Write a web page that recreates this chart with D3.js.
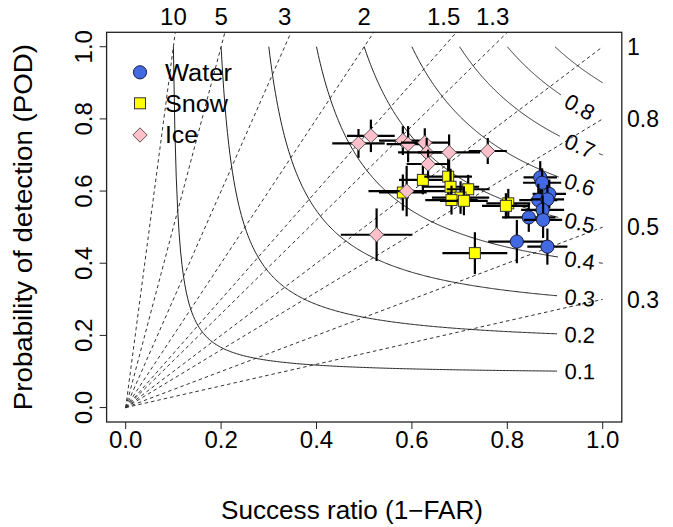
<!DOCTYPE html>
<html><head><meta charset="utf-8">
<script src="https://cdn.jsdelivr.net/npm/d3@7"></script>
<style>
body{margin:0;background:#fff}
svg{display:block}
text{font-family:"Liberation Sans",Arial,Helvetica,sans-serif;fill:#000}
</style></head>
<body><svg id="chart" width="673" height="527"></svg>
<script>
// ---------- data ----------
const xTicks = [0.0, 0.2, 0.4, 0.6, 0.8, 1.0];
const yTicks = [0.0, 0.2, 0.4, 0.6, 0.8, 1.0];
const biasLines = [0.3, 0.5, 0.8, 1, 1.3, 1.5, 2, 3, 5, 10];
const biasTopLabels = [10, 5, 3, 2, 1.5, 1.3];
const biasRightLabels = [1, 0.8, 0.5, 0.3];
const csiLevels = [0.1, 0.2, 0.3, 0.4, 0.5, 0.6, 0.7, 0.8, 0.9];
const csiLabelled = [0.1, 0.2, 0.3, 0.4, 0.5, 0.6, 0.7, 0.8];
const csiTails = [0.4, 0.7];
const categories = ["Water", "Snow", "Ice"];

const waterSR     = [0.869, 0.873, 0.888, 0.865, 0.884, 0.874, 0.845, 0.875, 0.820, 0.884];
const waterPOD    = [0.638, 0.623, 0.592, 0.575, 0.577, 0.548, 0.527, 0.520, 0.460, 0.446];
const waterSRerr  = [0.035, 0.040, 0.035, 0.040, 0.035, 0.045, 0.056, 0.040, 0.060, 0.042];
const waterPODerr = [0.045, 0.040, 0.040, 0.045, 0.040, 0.040, 0.040, 0.050, 0.060, 0.050];

const snowSR      = [0.623, 0.676, 0.681, 0.718, 0.702, 0.683, 0.709, 0.581, 0.802, 0.797, 0.732];
const snowPOD     = [0.631, 0.640, 0.612, 0.605, 0.582, 0.575, 0.573, 0.596, 0.566, 0.559, 0.428];
const snowSRerr   = [0.050, 0.050, 0.060, 0.045, 0.060, 0.055, 0.050, 0.050, 0.046, 0.050, 0.068];
const snowPODerr  = [0.040, 0.050, 0.050, 0.040, 0.045, 0.040, 0.040, 0.050, 0.040, 0.035, 0.058];

const iceSR       = [0.488, 0.514, 0.581, 0.592, 0.627, 0.631, 0.678, 0.759, 0.634, 0.589, 0.526];
const icePOD      = [0.732, 0.753, 0.740, 0.730, 0.734, 0.707, 0.707, 0.711, 0.675, 0.600, 0.479];
const iceSRerr    = [0.055, 0.050, 0.050, 0.045, 0.050, 0.060, 0.065, 0.040, 0.045, 0.080, 0.075];
const icePODerr   = [0.040, 0.045, 0.040, 0.050, 0.040, 0.040, 0.050, 0.036, 0.040, 0.070, 0.073];

// ---------- layout ----------
const svg = d3.select("#chart");
const L = 106.6, R = 621.8, T = 32.3, B = 422;
const x = d3.scaleLinear().domain([-0.04, 1.04]).range([L, R]);
const y = d3.scaleLinear().domain([-0.04, 1.04]).range([B, T]);

svg.append("defs").append("clipPath").attr("id", "clip")
  .append("rect").attr("x", L).attr("y", T).attr("width", R - L).attr("height", B - T);

const plot = svg.append("g").attr("clip-path", "url(#clip)");

// bias lines (dashed), from origin to SR = 1 (clipped at the box)
plot.selectAll("line.bias").data(biasLines).join("line")
  .attr("class", "bias")
  .attr("x1", x(0)).attr("y1", y(0))
  .attr("x2", x(1)).attr("y2", b => y(b))
  .attr("stroke", "#333").attr("stroke-width", 1).attr("stroke-dasharray", "3.5,3");

// CSI contours
const csiPOD = (c, sr) => 1 / (1 / c - 1 / sr + 1);
const labelSR = 0.952;
const lineGen = d3.line().x(d => d[0]).y(d => d[1]);
csiLevels.forEach(c => {
  const pts = [];
  const n = 300;
  for (let i = 0; i <= n; i++) {
    const sr = c + (1 - c) * i / n;
    pts.push([x(sr), y(csiPOD(c, sr))]);
  }
  let segs = [pts];
  if (csiLabelled.includes(c)) {
    const lx = x(labelSR), ly = y(csiPOD(c, labelSR));
    segs = [pts.filter(p => Math.hypot(p[0] - lx, p[1] - ly) > 22 && p[0] < lx)];
    if (csiTails.includes(c)) {
      const tail = pts.filter(p => p[0] > lx + 19);
      if (tail.length > 1) segs.push(tail);
    }
  }
  segs.forEach(s => plot.append("path").attr("d", lineGen(s))
    .attr("fill", "none").attr("stroke", "#222").attr("stroke-width", 1));
});

// CSI labels rotated along contour
csiLabelled.forEach(c => {
  const pod = csiPOD(c, labelSR);
  const slope = (pod * pod) / (labelSR * labelSR) * ((y(0) - y(1)) / (x(1) - x(0)));
  const ang = Math.atan(slope) * 180 / Math.PI;
  svg.append("text")
    .attr("transform", `translate(${x(labelSR)},${y(pod)}) rotate(${ang})`)
    .attr("text-anchor", "middle").attr("dy", "0.36em")
    .attr("font-size", 22).text(c.toFixed(1));
});

// error bars and points (per point, group order)
function drawMarker(g, cx, cy, kind) {
  if (kind === "Water") {
    g.append("circle").attr("cx", cx).attr("cy", cy).attr("r", 6.6)
      .attr("fill", "#4169E1").attr("stroke", "#1a1a40").attr("stroke-width", 1);
  } else if (kind === "Snow") {
    g.append("rect").attr("x", cx - 5.5).attr("y", cy - 5.5).attr("width", 11).attr("height", 11)
      .attr("fill", "#FFFF00").attr("stroke", "#333").attr("stroke-width", 1);
  } else {
    const h = 7.2;
    g.append("path").attr("d", `M${cx},${cy - h}L${cx + h},${cy}L${cx},${cy + h}L${cx - h},${cy}Z`)
      .attr("fill", "#FFC0CB").attr("stroke", "#555").attr("stroke-width", 1);
  }
}
function drawGroup(srs, pods, sre, pode, kind) {
  srs.forEach((sr, i) => {
    const g = svg.append("g");
    g.append("line").attr("x1", x(sr - sre[i])).attr("x2", x(sr + sre[i]))
      .attr("y1", y(pods[i])).attr("y2", y(pods[i]))
      .attr("stroke", "#000").attr("stroke-width", 2.2);
    g.append("line").attr("x1", x(sr)).attr("x2", x(sr))
      .attr("y1", y(pods[i] - pode[i])).attr("y2", y(pods[i] + pode[i]))
      .attr("stroke", "#000").attr("stroke-width", 2.2);
    drawMarker(g, x(sr), y(pods[i]), kind);
  });
}
drawGroup(waterSR, waterPOD, waterSRerr, waterPODerr, "Water");
drawGroup(snowSR, snowPOD, snowSRerr, snowPODerr, "Snow");
drawGroup(iceSR, icePOD, iceSRerr, icePODerr, "Ice");

// box
svg.append("rect").attr("x", L).attr("y", T).attr("width", R - L).attr("height", B - T)
  .attr("fill", "none").attr("stroke", "#222").attr("stroke-width", 1.3);

// x axis
xTicks.forEach(t => {
  svg.append("line").attr("x1", x(t)).attr("x2", x(t)).attr("y1", B).attr("y2", B + 7)
    .attr("stroke", "#222").attr("stroke-width", 1);
  svg.append("text").attr("x", x(t)).attr("y", 448).attr("text-anchor", "middle")
    .attr("font-size", 24).text(t.toFixed(1));
});
// y axis
yTicks.forEach(t => {
  svg.append("line").attr("x1", L).attr("x2", L - 7).attr("y1", y(t)).attr("y2", y(t))
    .attr("stroke", "#222").attr("stroke-width", 1);
  svg.append("text").attr("transform", `translate(92,${y(t)}) rotate(-90)`)
    .attr("text-anchor", "middle").attr("font-size", 24).text(t.toFixed(1));
});
// top bias labels
biasTopLabels.forEach(b => {
  svg.append("text").attr("x", x(1 / b)).attr("y", 25).attr("text-anchor", "middle")
    .attr("font-size", 24).text(String(b));
});
// right bias labels
biasRightLabels.forEach(b => {
  svg.append("text").attr("x", 627).attr("y", y(b)).attr("dy", "0.36em")
    .attr("font-size", 23).text(String(b));
});
// axis titles
svg.append("text").attr("x", 352).attr("y", 519).attr("text-anchor", "middle")
  .attr("font-size", 25).attr("textLength", 262).attr("lengthAdjust", "spacingAndGlyphs")
  .text("Success ratio (1\u2212FAR)");
svg.append("text").attr("transform", `translate(32,${(T + B) / 2}) rotate(-90)`)
  .attr("text-anchor", "middle").attr("font-size", 25)
  .attr("textLength", 366).attr("lengthAdjust", "spacingAndGlyphs")
  .text("Probability of detection (POD)");

// legend
const legY = [72.3, 103.3, 135];
const legW = [67, 63, 33];
categories.forEach((c, i) => {
  const g = svg.append("g");
  drawMarker(g, 140, legY[i], c);
  g.append("text").attr("x", 165).attr("y", legY[i]).attr("dy", "0.36em")
    .attr("font-size", 23).attr("textLength", legW[i]).attr("lengthAdjust", "spacingAndGlyphs")
    .text(c);
});
</script></body></html>
